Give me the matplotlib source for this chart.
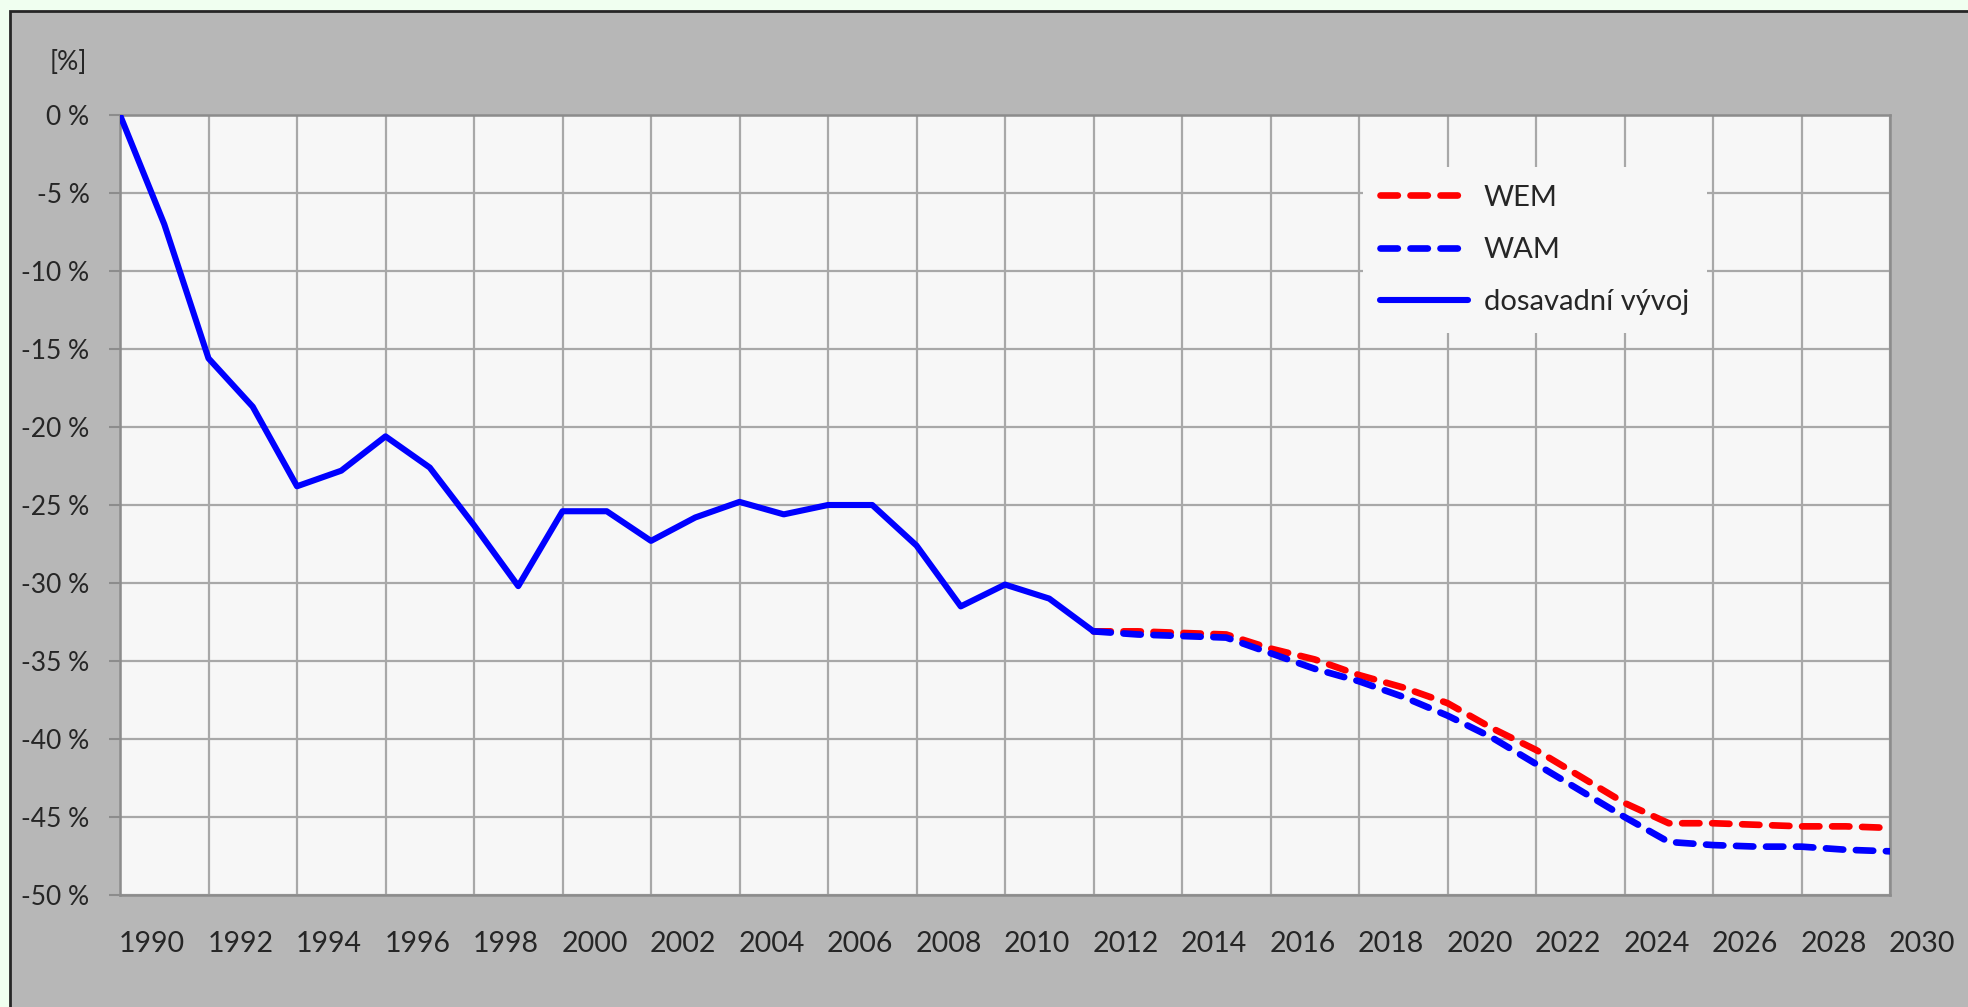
import numpy as np
import matplotlib
matplotlib.use("Agg")
import matplotlib.pyplot as plt
from matplotlib.patches import Rectangle
from matplotlib.transforms import ScaledTranslation

plt.rcParams['font.family'] = ['Lato', 'DejaVu Sans']

# data
hist_years = list(range(1990, 2013))
hist_vals = [0.0, -7.0, -15.6, -18.7, -23.8, -22.8, -20.6, -22.6, -26.3, -30.2,
             -25.4, -25.4, -27.3, -25.8, -24.8, -25.6, -25.0, -25.0, -27.6, -31.5,
             -30.1, -31.0, -33.1]

proj_years = list(range(2012, 2031))
wem_vals = [-33.1, -33.1, -33.2, -33.3, -34.2, -34.9, -35.9, -36.7, -37.7, -39.3,
            -40.7, -42.4, -44.1, -45.4, -45.4, -45.5, -45.6, -45.6, -45.7]
wam_vals = [-33.1, -33.3, -33.4, -33.5, -34.5, -35.5, -36.3, -37.3, -38.5, -39.9,
            -41.6, -43.3, -45.0, -46.6, -46.8, -46.9, -46.9, -47.1, -47.2]

x_ticks = list(range(1990, 2031, 2))
y_ticks = list(range(-50, 1, 5))

W, H = 1968, 1007
fig = plt.figure(figsize=(W / 100, H / 100), dpi=100)
fig.patch.set_facecolor('#f0fff0')
fig.patches.append(Rectangle((10 / W, -0.05), 1.1, (H - 11) / H + 0.05,
                             transform=fig.transFigure, facecolor='#b7b7b7',
                             edgecolor='#262626', linewidth=2, zorder=-5))

ax = fig.add_axes([120 / W, (H - 895) / H, 1770 / W, 780 / H])
ax.set_zorder(2)
ax.set_facecolor('#f7f7f7')

dash = (0, (2.6, 1.9))
ax.plot(proj_years, wem_vals, color='#ff0000', lw=4.8, linestyle=dash,
        dash_capstyle='round', label='WEM', zorder=3)
ax.plot(proj_years, wam_vals, color='#0000ff', lw=4.8, linestyle=dash,
        dash_capstyle='round', label='WAM', zorder=4)
ax.plot(hist_years, hist_vals, color='#0000ff', lw=4.4, solid_capstyle='round',
        label='dosavadní vývoj', zorder=5)

ax.set_xlim(1990, 2030)
ax.set_ylim(-50, 0)
ax.set_xticks(x_ticks)
ax.set_xticklabels([str(y) for y in x_ticks])
ax.set_yticks(y_ticks)
ax.set_yticklabels([f"{v} %" for v in y_ticks])

ax.grid(True, color='#a8a8a8', lw=1.6, zorder=0)
ax.set_axisbelow(True)
for s in ax.spines.values():
    s.set_color('#8c8c8c')
    s.set_linewidth(1.8)

ax.tick_params(axis='x', length=0, pad=26, labelsize=20.5, colors='#262626')
ax.tick_params(axis='y', length=8, width=1.5, color='#8c8c8c', pad=14,
               labelsize=19, labelcolor='#262626')

off = ScaledTranslation(0.32, 0, fig.dpi_scale_trans)
for lab in ax.get_xticklabels():
    lab.set_transform(lab.get_transform() + off)

fig.text(68 / W, 1 - 62 / H, '[%]', ha='center', va='center', fontsize=19,
         color='#262626')

leg = ax.legend(loc='upper left', bbox_to_anchor=(0.694, 0.952), fontsize=21,
                handlelength=3.0, handletextpad=0.55, labelspacing=0.9,
                frameon=True, facecolor='#f7f7f7', edgecolor='none',
                framealpha=1, borderpad=0.6, fancybox=False)
for t in leg.get_texts():
    t.set_color('#262626')

fig.savefig('out.png', dpi=100, facecolor=fig.get_facecolor())
